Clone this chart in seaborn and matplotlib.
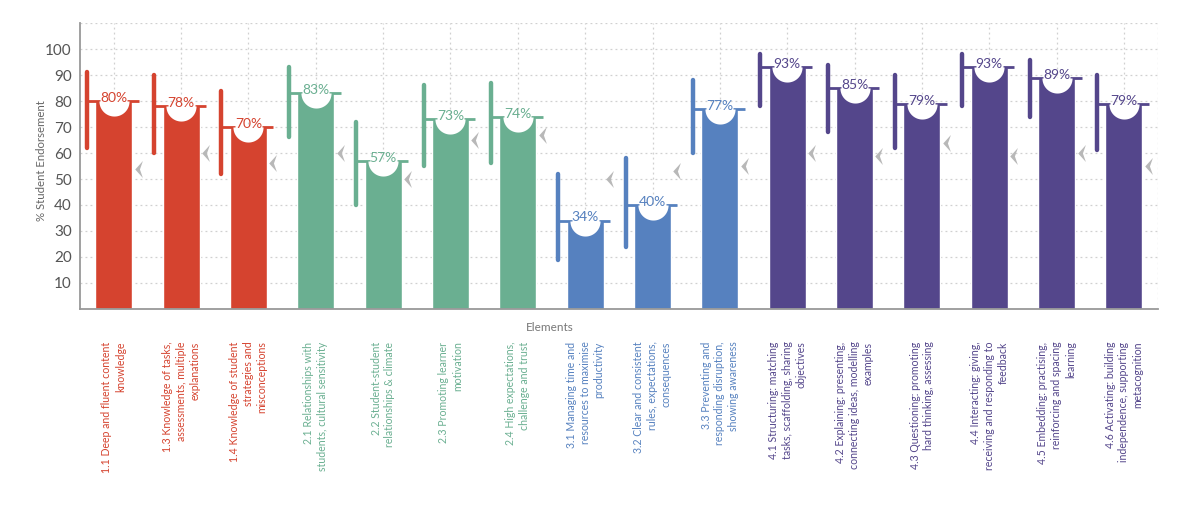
import matplotlib
matplotlib.use("Agg")
import matplotlib.pyplot as plt
from matplotlib.path import Path
import numpy as np
import pandas as pd
import seaborn as sns

labels = [
    "1.1 Deep and fluent content\nknowledge",
    "1.3 Knowledge of tasks,\nassessments, multiple\nexplanations",
    "1.4 Knowledge of student\nstrategies and\nmisconceptions",
    "2.1 Relationships with\nstudents, cultural sensitivity",
    "2.2 Student-student\nrelationships & climate",
    "2.3 Promoting learner\nmotivation",
    "2.4 High expectations,\nchallenge and trust",
    "3.1 Managing time and\nresources to maximise\nproductivity",
    "3.2 Clear and consistent\nrules, expectations,\nconsequences",
    "3.3 Preventing and\nresponding disruption,\nshowing awareness",
    "4.1 Structuring: matching\ntasks, scaffolding, sharing\nobjectives",
    "4.2 Explaining: presenting,\nconnecting ideas, modelling\nexamples",
    "4.3 Questioning: promoting\nhard thinking, assessing",
    "4.4 Interacting: giving,\nreceiving and responding to\nfeedback",
    "4.5 Embedding: practising,\nreinforcing and spacing\nlearning",
    "4.6 Activating: building\nindependence, supporting\nmetacognition",
]
groups = [1, 1, 1, 2, 2, 2, 2, 3, 3, 3, 4, 4, 4, 4, 4, 4]
endorsement = [80, 78, 70, 83, 57, 73, 74, 34, 40, 77, 93, 85, 79, 93, 89, 79]
range_high = [91, 90, 84, 93, 72, 86, 87, 52, 58, 88, 98, 94, 90, 98, 96, 90]
range_low = [62, 60, 52, 66, 40, 55, 56, 19, 24, 60, 78, 68, 62, 78, 74, 61]
benchmark = [54, 60, 56, 60, 50, 65, 67, 50, 53, 55, 60, 59, 64, 59, 60, 55]

group_colors = {1: "#D5432F", 2: "#6AAF91", 3: "#5681BF", 4: "#54468B"}

df = pd.DataFrame({"element": labels, "group": groups, "pct": endorsement,
                   "hi": range_high, "lo": range_low, "bench": benchmark})
df["color"] = df["group"].map(group_colors)

sns.set_style("white")
plt.rcParams["font.family"] = ["Lato", "DejaVu Sans"]

fig = plt.figure(figsize=(12, 5.14), dpi=100)
ax = fig.add_axes([0.0667, 0.399, 0.898, 0.556])

bar_w = 0.55
sns.barplot(data=df, x="element", y="pct", hue="element", palette=list(df["color"]),
            legend=False, width=bar_w, saturation=1, ax=ax, zorder=2)

x = np.arange(len(df))

# range line on the left, value line either side (middle hidden by the disc)
ax.vlines(x - 0.4, df["lo"], df["hi"], colors=df["color"], linewidth=3.2,
          capstyle="round", zorder=3)
ax.hlines(df["pct"], x - 0.4, x - 0.2, colors=df["color"], linewidth=2, zorder=3)
ax.hlines(df["pct"], x + 0.2, x + 0.37, colors=df["color"], linewidth=2, zorder=3)

# white half-disc cut into the top of each bar
t = np.linspace(np.pi, 2 * np.pi, 40)
half_disc = Path(np.column_stack([np.cos(t), np.sin(t)]).tolist() + [[-1, 0]],
                 closed=True)
ax.scatter(x, df["pct"], marker=half_disc, s=470, color="white", linewidths=0, zorder=4)

# grey chevron to the right of each bar
chevron = Path([(-0.5, 0), (0.4, 1), (0.05, 0), (0.4, -1), (-0.5, 0)], closed=True)
ax.scatter(x + 0.37, df["bench"], marker=chevron, s=150, color="#B8B8B8",
           linewidths=0, zorder=4)

for xi, row in zip(x, df.itertuples()):
    ax.text(xi, row.pct + 1.2, f"{row.pct}%", ha="center", va="center",
            fontsize=10, color=row.color, zorder=5)

ax.set_xlim(-0.5, 15.5)
ax.set_ylim(0, 110)
ax.set_yticks(range(10, 101, 10))
ax.set_xticks(x)
ax.set_xticklabels([])
ax.tick_params(axis="both", length=4, color="#999999", labelsize=11,
               labelcolor="#555555", width=1)
ax.tick_params(axis="y", pad=2)
ax.grid(True, color="#D0D0D0", linestyle=(0, (1.5, 2.5)), linewidth=0.9, zorder=0)
ax.axhline(110, color="#D0D0D0", linestyle=(0, (1.5, 2.5)), linewidth=0.9, zorder=0)
ax.axvline(15.5, color="#D0D0D0", linestyle=(0, (1.5, 2.5)), linewidth=0.9, zorder=0)
ax.set_axisbelow(True)

for side in ["top", "right"]:
    ax.spines[side].set_visible(False)
for side in ["left", "bottom"]:
    ax.spines[side].set_color("#999999")
    ax.spines[side].set_linewidth(1.3)

ax.set_xlabel("")
ax.set_ylabel("% Student Endorsement", fontsize=8.2, color="#666666")
ax.yaxis.set_label_coords(-0.031, 0.52)

fig.text(0.458, 0.362, "Elements", ha="center", va="center", fontsize=8.5, color="#777777")

for xi, row in zip(x, df.itertuples()):
    ax.annotate(row.element, xy=(xi, 0), xycoords=("data", "axes fraction"),
                xytext=(0, -23.5), textcoords="offset points", rotation=90,
                ha="center", va="top", multialignment="right", fontsize=7.6,
                color=row.color, linespacing=1.3)

fig.savefig("out.png", dpi=100, facecolor="white")
